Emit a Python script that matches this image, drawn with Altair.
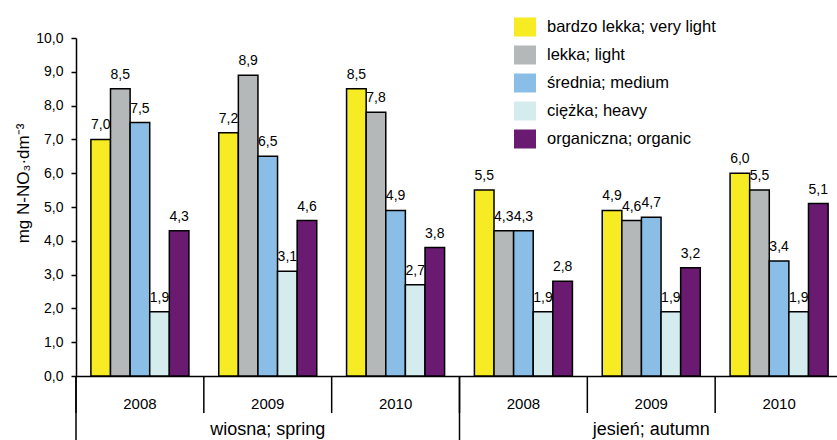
import altair as alt
import pandas as pd

FONT = "Liberation Sans"

seasons = ["wiosna; spring", "jesień; autumn"]
years = ["2008", "2009", "2010"]
soils = [
    "bardzo lekka; very light",
    "lekka; light",
    "średnia; medium",
    "ciężka; heavy",
    "organiczna; organic",
]
colors = ["#F7EC23", "#B5B8B9", "#8BBEE6", "#D4ECEE", "#6B1A72"]

# N-NO3 content per soil category, one list per season/year group
spring_2008 = [7.0, 8.5, 7.5, 1.9, 4.3]
spring_2009 = [7.2, 8.9, 6.5, 3.1, 4.6]
spring_2010 = [8.5, 7.8, 4.9, 2.7, 3.8]
autumn_2008 = [5.5, 4.3, 4.3, 1.9, 2.8]
autumn_2009 = [4.9, 4.6, 4.7, 1.9, 3.2]
autumn_2010 = [6.0, 5.5, 3.4, 1.9, 5.1]

series = {
    (seasons[0], "2008"): spring_2008,
    (seasons[0], "2009"): spring_2009,
    (seasons[0], "2010"): spring_2010,
    (seasons[1], "2008"): autumn_2008,
    (seasons[1], "2009"): autumn_2009,
    (seasons[1], "2010"): autumn_2010,
}

groups = [f"{s}|{y}" for s in seasons for y in years]

rows = []
for (season, year), vals in series.items():
    for soil, v in zip(soils, vals):
        rows.append({"grp": f"{season}|{year}", "soil": soil, "value": v})
df = pd.DataFrame(rows)

ticks_df = pd.DataFrame({"grp": groups})
season_edges = pd.DataFrame({"grp": [f"{s}|{years[0]}" for s in seasons]})
season_labels = pd.DataFrame(
    {"grp": [f"{s}|{years[1]}" for s in seasons], "season": seasons}
)

W, H = 761, 338

x_scale = alt.Scale(domain=groups, range=[0, 767], paddingInner=0, paddingOuter=0)
off_scale = alt.Scale(domain=soils, paddingInner=0, paddingOuter=0.76)
y_scale = alt.Scale(domain=[0, 10])

x_axis = alt.Axis(
    title=None,
    labelExpr="split(datum.value, '|')[1]",
    ticks=False,
    domainColor="black",
    domainWidth=1.5,
    labelFontSize=15,
    labelPadding=20,
    labelAngle=0,
)
y_axis = alt.Axis(
    title="mg N-NO₃·dm⁻³",
    values=list(range(0, 11)),
    format=".1f",
    labelExpr="replace(datum.label, '.', ',')",
    labelOverlap=False,
    tickSize=5,
    tickColor="black",
    tickWidth=1.5,
    domainColor="black",
    domainWidth=1.5,
    labelFontSize=14,
    labelPadding=8,
    grid=False,
    titleFontSize=17,
    titleFontWeight="normal",
    titleX=-53,
    titleY=145,
    titleAngle=270,
    titleAlign="center",
    titleBaseline="middle",
)


def gx(**kw):
    return alt.X("grp:N", sort=groups, scale=x_scale, axis=x_axis, **kw)


bars = (
    alt.Chart(df)
    .mark_bar(stroke="black", strokeWidth=1.5)
    .encode(
        x=gx(),
        xOffset=alt.XOffset("soil:N", sort=soils, scale=off_scale),
        y=alt.Y("value:Q", scale=y_scale, axis=y_axis),
        color=alt.Color(
            "soil:N",
            sort=soils,
            scale=alt.Scale(domain=soils, range=colors),
            legend=alt.Legend(
                title=None,
                orient="none",
                legendX=438,
                legendY=-22,
                symbolType="M-1,-0.864H1V0.864H-1Z",
                symbolSize=484,
                symbolStrokeWidth=0,
                symbolOpacity=1,
                labelFontSize=16.5,
                labelOffset=11,
                rowPadding=7,
                labelLimit=400,
                padding=0,
            ),
        ),
    )
)

labels = (
    alt.Chart(df)
    .transform_calculate(txt="replace(format(datum.value, '.1f'), '.', ',')")
    .mark_text(dy=-14, baseline="middle", fontSize=14)
    .encode(
        x=gx(),
        xOffset=alt.XOffset("soil:N", sort=soils, scale=off_scale),
        y=alt.Y("value:Q", scale=y_scale, axis=y_axis),
        text="txt:N",
    )
)

# short separators between years under the axis
year_ticks = (
    alt.Chart(ticks_df)
    .mark_rule(color="black", strokeWidth=1.5)
    .encode(x=gx(bandPosition=0), y=alt.value(H), y2=alt.value(H + 37))
)

# long separators between seasons
season_ticks = (
    alt.Chart(season_edges)
    .mark_rule(color="black", strokeWidth=1.5)
    .encode(x=gx(bandPosition=0), y=alt.value(H), y2=alt.value(H + 64))
)

season_text = (
    alt.Chart(season_labels)
    .mark_text(fontSize=18, baseline="middle")
    .encode(x=gx(), y=alt.value(H + 54), text="season:N")
)

chart = (
    alt.layer(bars, labels, year_ticks, season_ticks, season_text)
    .properties(
        width=W,
        height=H,
        autosize=alt.AutoSizeParams(type="none"),
        padding={"left": 76, "top": 38, "right": 0, "bottom": 64},
    )
    .configure(font=FONT)
    .configure_view(stroke=None)
    .configure_axis(labelColor="black", titleColor="black", labelFont=FONT, titleFont=FONT)
    .configure_legend(labelColor="black", labelFont=FONT)
    .configure_text(color="black", font=FONT)
)

chart.save("out.html", embed_options={"renderer": "svg", "actions": False})
